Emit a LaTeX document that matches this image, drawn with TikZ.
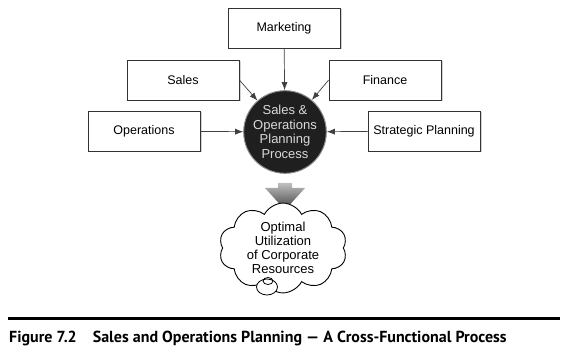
\documentclass[tikz,border=0pt]{standalone}
\usepackage{fontspec}
\setmainfont{Liberation Sans}
\newfontfamily\capfont[Ligatures=TeX]{PT Sans}
\usepackage{tikz}
\usetikzlibrary{shapes.symbols, shadows, arrows.meta}

\begin{document}
\begin{tikzpicture}[>={Latex[length=8pt, width=6pt]}, x=1pt, y=-1pt,
    funcbox/.style={draw=black!80, fill=white, line width=0.7pt,
        minimum width=112pt, minimum height=40pt, inner sep=0pt,
        drop shadow={shadow xshift=1.5pt, shadow yshift=-1.5pt, fill=black!35},
        font=\fontsize{12.5}{15}\selectfont},
    feed/.style={->, draw=black!75, line width=0.7pt}]
    \useasboundingbox (0,0) rectangle (566,353);

    % Funktionsbereiche
    \node[funcbox] (marketing) at (284,28) {Marketing};
    \node[funcbox] (sales) at (183,80) {Sales};
    \node[funcbox] (finance) at (385,80) {Finance};
    \node[funcbox] (operations) at (144,131) {Operations};
    \node[funcbox] (strategic) at (424,131) {Strategic Planning};

    % Zentraler Prozess
    \node[circle, fill=black!88, draw=black!45, line width=1pt,
        minimum size=80pt, inner sep=0pt, text=black!15, align=center,
        font=\fontsize{13}{14.5}\selectfont] (sop) at (285,132)
        {Sales \&\\Operations\\Planning\\Process};

    % Pfeile zum Prozess
    \draw[feed] (marketing) -- (sop);
    \draw[feed] (sales.east) -- (sop);
    \draw[feed] (finance.west) -- (sop);
    \draw[feed] (operations) -- (sop);
    \draw[feed] (strategic) -- (sop);

    % Breiter grauer Pfeil
    \shade[top color=black!25, bottom color=black!75]
        (278,183) -- (292,183) -- (292,188) -- (305,188) -- (285,210)
        -- (265,188) -- (278,188) -- cycle;

    % Wolke
    \node[cloud, cloud puffs=10, cloud puff arc=125, aspect=1.5,
        draw=black, line width=0.9pt, fill=white,
        minimum width=128pt, minimum height=88pt, inner sep=0pt,
        align=center, font=\fontsize{13}{14}\selectfont] (result) at (283,248)
        {Optimal\\Utilization\\of Corporate\\Resources};
    \draw[line width=0.8pt, fill=white] (267,287) ellipse (10.5pt and 8pt);
    \draw[line width=0.8pt] (268,281) ellipse (5pt and 3.5pt);

    % Bildunterschrift
    \draw[line width=3pt] (8,318) -- (560,318);
    \node[anchor=base west, inner sep=0pt,
        font=\capfont\bfseries\fontsize{16}{19}\selectfont] (caption) at (9,342)
        {Figure 7.2\hspace{12pt} Sales and Operations Planning — A Cross-Functional Process};
\end{tikzpicture}
\end{document}
